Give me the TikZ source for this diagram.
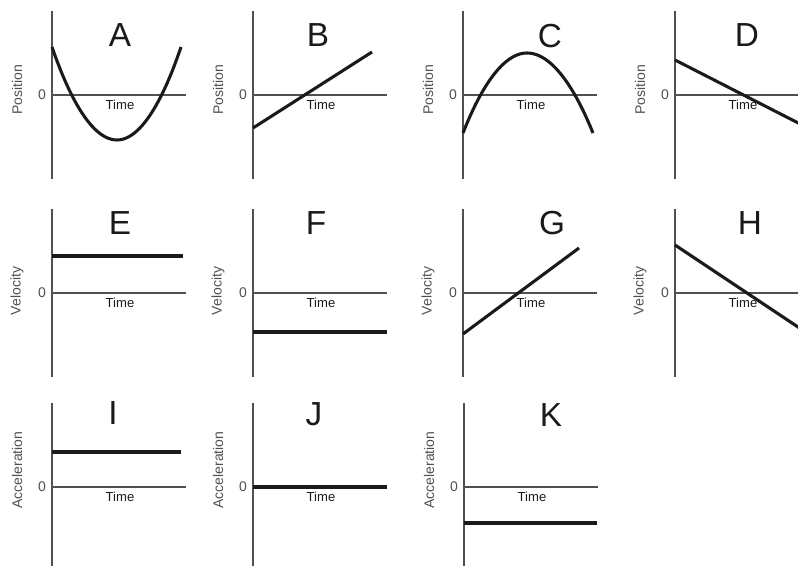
\documentclass[tikz,border=0pt]{standalone}
\usepackage{fontspec}
\setmainfont{Liberation Sans}
\definecolor{axisgray}{HTML}{505050}
\definecolor{inkblack}{HTML}{1A1A1A}

\begin{document}
\begin{tikzpicture}[x=0.75pt,y=-0.75pt,
    axisline/.style={draw=axisgray,line width=0.8pt},
    graphline/.style={draw=inkblack,line width=2.3pt},
    panelletter/.style={text=inkblack,inner sep=0pt,font=\fontsize{25}{25}\selectfont},
    qtylabel/.style={rotate=90,text=axisgray,inner sep=0pt,font=\fontsize{10.5}{12}\selectfont},
    zerolabel/.style={text=axisgray,inner sep=0pt,font=\fontsize{10.5}{12}\selectfont},
    timelabel/.style={text=inkblack,inner sep=0pt,font=\fontsize{9.8}{12}\selectfont}]
      \useasboundingbox (0,0) rectangle (798,566);
      \clip (0,0) rectangle (798,566);
      % axes of the eleven panels
      \foreach \p/\x/\y/\qty/\qy in {A/52/95/Position/90, B/253/95/Position/90,
          C/463/95/Position/90, D/675/95/Position/90,
          E/52/293/Velocity/291, F/253/293/Velocity/291,
          G/463/293/Velocity/291, H/675/293/Velocity/291,
          I/52/487/Acceleration/470, J/253/487/Acceleration/470,
          K/464/487/Acceleration/470}{
        \coordinate (\p o) at (\x,\y);
        \coordinate (\p t) at (\x,\y-84);
        \coordinate (\p b) at (\x,\y+84);
        \coordinate (\p e) at (\x+134,\y);
        \draw[axisline] (\p t) -- (\p b);
        \draw[axisline] (\p o) -- (\p e);
        \node[zerolabel] (\p zero) at (\x-10,\y) {0};
        \node[timelabel] (\p time) at (\x+68,\y+10) {Time};
        \node[qtylabel] (\p qty) at (\x-35,\qy) {\qty};
      }
      % panel letters
      \node[panelletter] (lA) at (120,35) {A};
      \node[panelletter] (lB) at (318,35) {B};
      \node[panelletter] (lC) at (550,36) {C};
      \node[panelletter] (lD) at (747,35) {D};
      \node[panelletter] (lE) at (120,223) {E};
      \node[panelletter] (lF) at (316,223) {F};
      \node[panelletter] (lG) at (552,223) {G};
      \node[panelletter] (lH) at (750,223) {H};
      \node[panelletter] (lI) at (113,413) {I};
      \node[panelletter] (lJ) at (314,414) {J};
      \node[panelletter] (lK) at (551,415) {K};
      % graphs
      \draw[graphline] (52,47) parabola bend (117,140) (181,47);
      \draw[graphline] (253,128) -- (372,52);
      \draw[graphline] (463,133) parabola bend (527,53) (593,133);
      \draw[graphline] (675,60) -- (810,129);
      \draw[graphline] (52,256) -- (183,256);
      \draw[graphline] (253,332) -- (387,332);
      \draw[graphline] (463,334) -- (579,248);
      \draw[graphline] (675,245) -- (810,335);
      \draw[graphline] (52,452) -- (181,452);
      \draw[graphline] (253,487) -- (387,487);
      \draw[graphline] (464,523) -- (597,523);
\end{tikzpicture}
\end{document}
